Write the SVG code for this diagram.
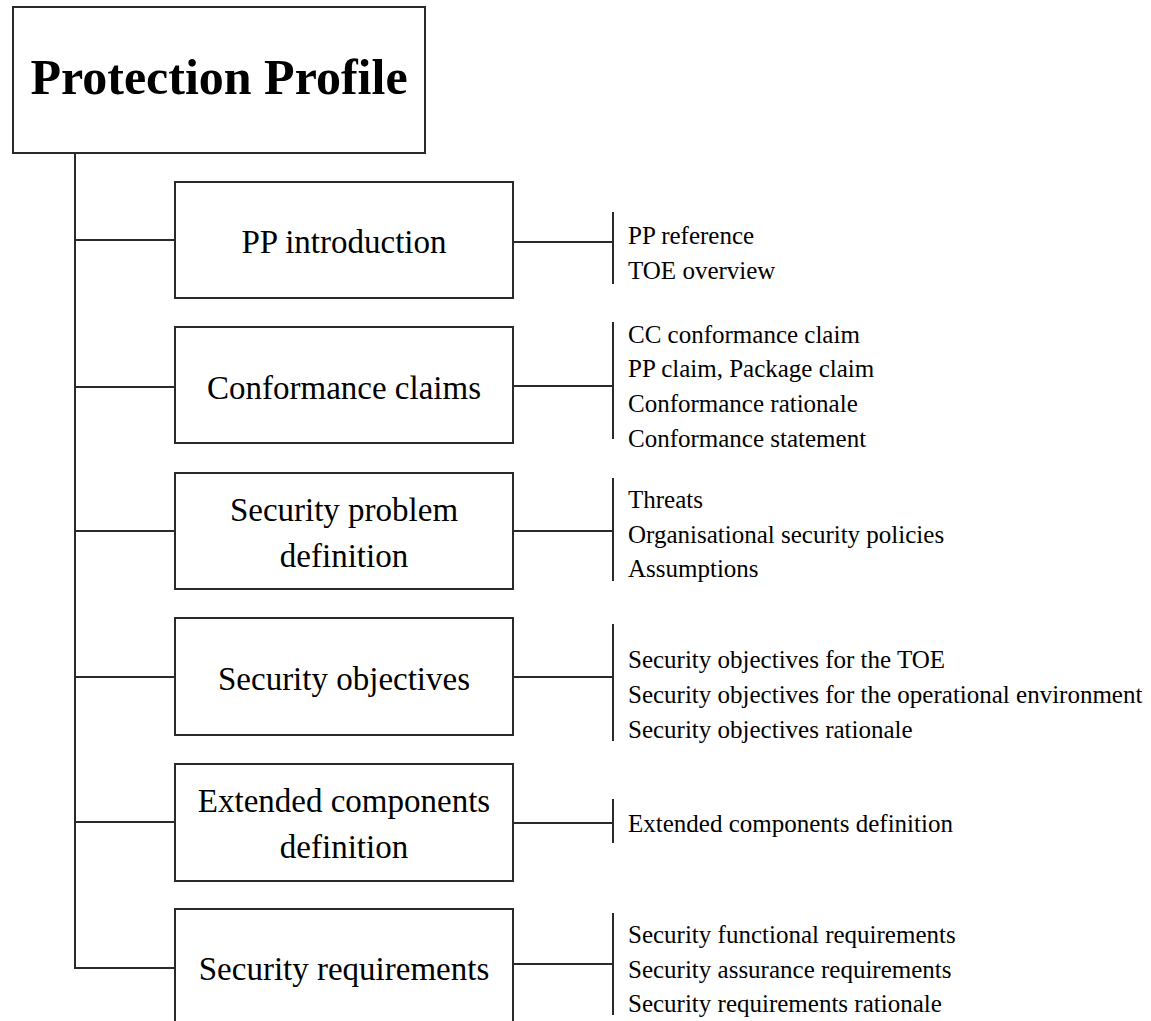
<svg xmlns="http://www.w3.org/2000/svg" width="1151" height="1021" viewBox="0 0 1151 1021">
<style>
.box{fill:#fff;stroke:#2a2a2a;stroke-width:2}
.ln{stroke:#2a2a2a;stroke-width:2;fill:none}
.title{font-family:"Liberation Serif","Times New Roman",serif;font-weight:bold;font-size:50px;fill:#000;text-anchor:middle}
.lbl{font-family:"Liberation Serif","Times New Roman",serif;font-size:33px;fill:#000;text-anchor:middle}
.item{font-family:"Liberation Serif","Times New Roman",serif;font-size:25px;fill:#000}
</style>
<rect width="1151" height="1021" fill="#fff"/>
<g id="connectors">
<line class="ln" x1="75" y1="153" x2="75" y2="969"/>
<line class="ln" x1="74" y1="240" x2="175" y2="240"/>
<line class="ln" x1="74" y1="387" x2="175" y2="387"/>
<line class="ln" x1="74" y1="531" x2="175" y2="531"/>
<line class="ln" x1="74" y1="677" x2="175" y2="677"/>
<line class="ln" x1="74" y1="822" x2="175" y2="822"/>
<line class="ln" x1="74" y1="968" x2="175" y2="968"/>
<line class="ln" x1="513" y1="242" x2="613" y2="242"/>
<line class="ln" x1="513" y1="386" x2="613" y2="386"/>
<line class="ln" x1="513" y1="531" x2="613" y2="531"/>
<line class="ln" x1="513" y1="677" x2="613" y2="677"/>
<line class="ln" x1="513" y1="823" x2="613" y2="823"/>
<line class="ln" x1="513" y1="964" x2="613" y2="964"/>
<line class="ln" x1="613" y1="212" x2="613" y2="284"/>
<line class="ln" x1="613" y1="322" x2="613" y2="439"/>
<line class="ln" x1="613" y1="478" x2="613" y2="581"/>
<line class="ln" x1="613" y1="624" x2="613" y2="741"/>
<line class="ln" x1="613" y1="799" x2="613" y2="843"/>
<line class="ln" x1="613" y1="913" x2="613" y2="1015"/>
</g>
<g id="protection-profile">
<rect class="box" x="13" y="7" width="412" height="146"/>
<text class="title" x="219" y="94">Protection Profile</text>
</g>
<g id="pp-introduction">
<rect class="box" x="175" y="182" width="338" height="116"/>
<text class="lbl" x="344" y="253">PP introduction</text>
</g>
<g id="conformance-claims">
<rect class="box" x="175" y="327" width="338" height="116"/>
<text class="lbl" x="344" y="399">Conformance claims</text>
</g>
<g id="security-problem-definition">
<rect class="box" x="175" y="473" width="338" height="116"/>
<text class="lbl" x="344" y="521">Security problem</text>
<text class="lbl" x="344" y="567">definition</text>
</g>
<g id="security-objectives">
<rect class="box" x="175" y="618" width="338" height="117"/>
<text class="lbl" x="344" y="690">Security objectives</text>
</g>
<g id="extended-components-definition">
<rect class="box" x="175" y="764" width="338" height="117"/>
<text class="lbl" x="344" y="812">Extended components</text>
<text class="lbl" x="344" y="858">definition</text>
</g>
<g id="security-requirements">
<rect class="box" x="175" y="909" width="338" height="120"/>
<text class="lbl" x="344" y="980">Security requirements</text>
</g>
<g id="pp-introduction-items">
<text class="item" x="628" y="244">PP reference</text>
<text class="item" x="628" y="279">TOE overview</text>
</g>
<g id="conformance-claims-items">
<text class="item" x="628" y="343">CC conformance claim</text>
<text class="item" x="628" y="377">PP claim, Package claim</text>
<text class="item" x="628" y="412">Conformance rationale</text>
<text class="item" x="628" y="447">Conformance statement</text>
</g>
<g id="security-problem-definition-items">
<text class="item" x="628" y="508">Threats</text>
<text class="item" x="628" y="543">Organisational security policies</text>
<text class="item" x="628" y="577">Assumptions</text>
</g>
<g id="security-objectives-items">
<text class="item" x="628" y="668">Security objectives for the TOE</text>
<text class="item" x="628" y="703">Security objectives for the operational environment</text>
<text class="item" x="628" y="738">Security objectives rationale</text>
</g>
<g id="extended-components-definition-items">
<text class="item" x="628" y="832">Extended components definition</text>
</g>
<g id="security-requirements-items">
<text class="item" x="628" y="943">Security functional requirements</text>
<text class="item" x="628" y="978">Security assurance requirements</text>
<text class="item" x="628" y="1012">Security requirements rationale</text>
</g>
</svg>
